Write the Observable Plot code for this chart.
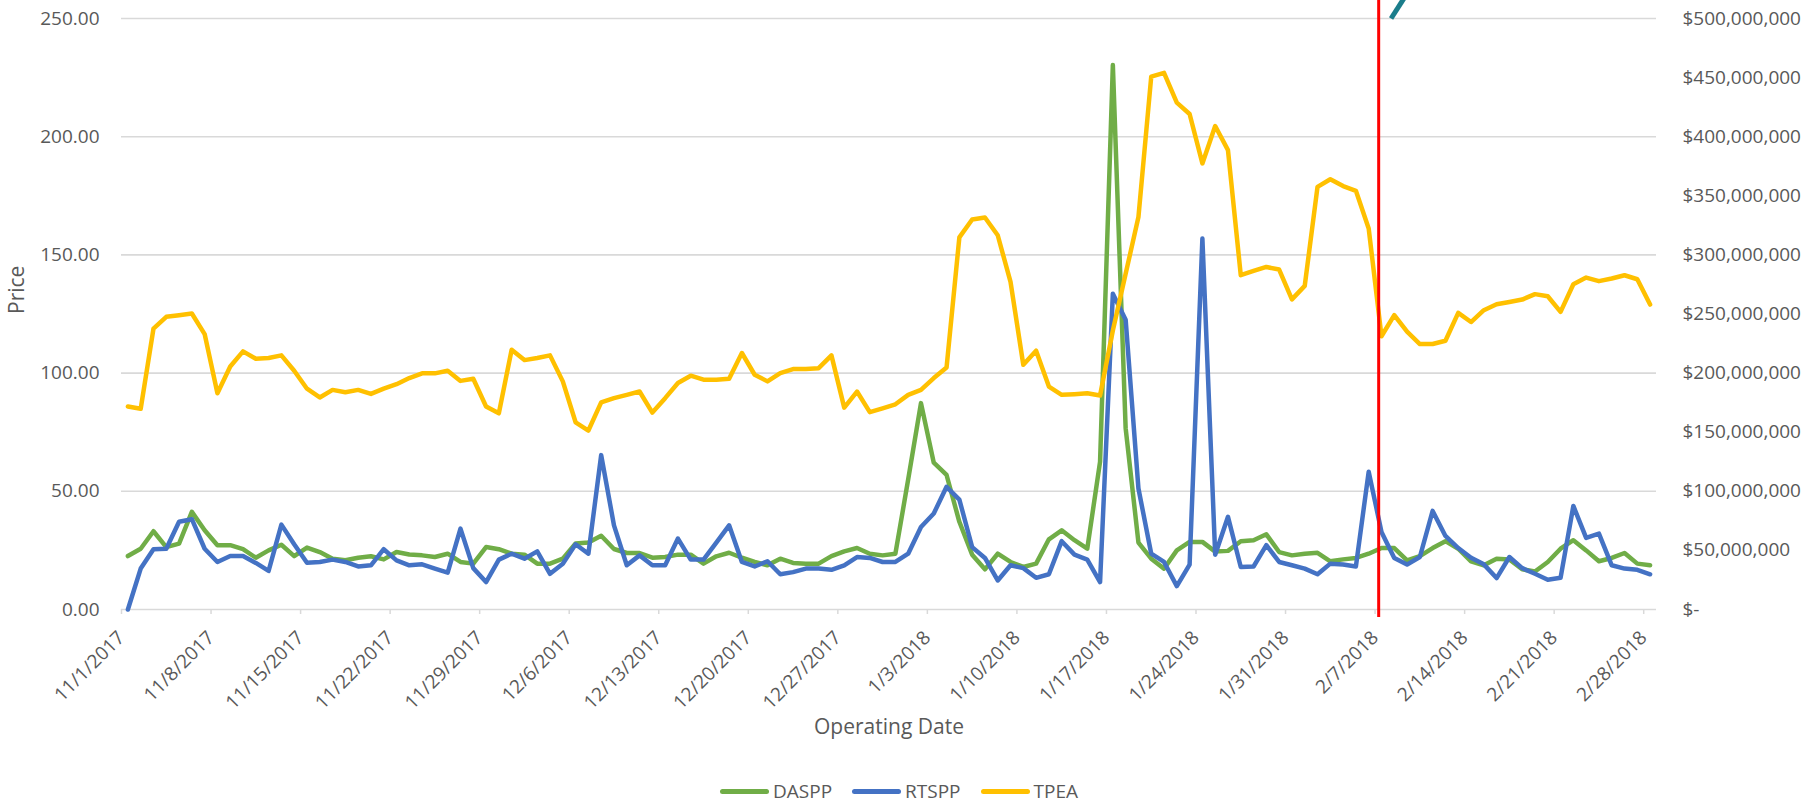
<!DOCTYPE html>
<html>
<head>
<meta charset="utf-8">
<script src="https://cdn.jsdelivr.net/npm/d3@7"></script>
<script src="https://cdn.jsdelivr.net/npm/@observablehq/plot@0.6"></script>
<style>
  html, body { margin: 0; padding: 0; background: #fff; }
  #chart { position: relative; width: 1818px; height: 806px; overflow: hidden; font-family: "Open Sans", sans-serif; color: #595959; }
  .legend { position: absolute; left: 720px; top: 779px; display: flex; align-items: center; font-size: 19px; line-height: 24px; white-space: nowrap; }
  .legend .item { display: flex; align-items: center; margin-right: 20px; }
  .legend .swatch { width: 49px; height: 5px; border-radius: 3px; margin-right: 4px; }
</style>
</head>
<body>
<div id="chart"></div>
<script>
// Operating days: one value per day from 11/1/2017 through 2/28/2018
const firstDay = "2017-11-01";
const endDay = "2018-03-01";

// Day-ahead settlement point price ($/MWh)
const daspp = [
  22.6, 25.7, 33.1, 26.4, 27.9, 41.3, 33.5, 27.2, 27.2, 25.5,
  21.9, 25.0, 27.4, 22.6, 26.2, 24.3, 21.5, 20.8, 21.9, 22.5,
  21.2, 24.3, 23.3, 22.9, 22.2, 23.6, 20.1, 19.4, 26.4, 25.5,
  23.6, 23.2, 19.4, 19.4, 21.5, 27.9, 28.3, 31.2, 25.6, 23.9,
  23.9, 21.9, 22.2, 23.2, 23.2, 19.4, 22.5, 24.0, 21.9, 20.1,
  18.7, 21.5, 19.7, 19.4, 19.4, 22.6, 24.6, 26.0, 23.6, 22.9,
  23.6, 55.0, 87.3, 62.1, 56.9, 37.1, 23.2, 17.0, 23.6, 20.1,
  18.0, 19.4, 29.7, 33.5, 29.3, 25.7, 62.5, 230.3, 76.7, 28.3,
  21.5, 17.3, 25.0, 28.6, 28.6, 24.5, 24.8, 28.9, 29.3, 31.8,
  24.3, 22.9, 23.6, 24.0, 20.4, 21.2, 21.8, 23.6, 26.0, 26.0,
  20.8, 22.6, 26.0, 28.9, 25.7, 20.4, 18.7, 21.5, 21.2, 17.0,
  16.1, 20.1, 25.7, 29.3, 25.0, 20.4, 21.8, 23.9, 19.4, 18.7
];

// Real-time settlement point price ($/MWh)
const rtspp = [
  0.0, 17.3, 25.5, 25.7, 37.1, 38.2, 25.7, 20.1, 22.6, 22.6,
  19.7, 16.3, 35.9, 27.6, 19.8, 20.1, 21.1, 20.1, 18.2, 18.7,
  25.5, 20.8, 18.7, 19.1, 17.3, 15.6, 34.2, 17.5, 11.6, 21.1,
  23.6, 21.5, 24.6, 15.1, 19.4, 27.6, 23.6, 65.3, 35.6, 18.7,
  22.9, 18.7, 18.7, 30.0, 21.1, 21.1, 28.3, 35.6, 20.1, 18.2,
  20.4, 14.9, 15.8, 17.3, 17.3, 16.8, 18.7, 22.2, 21.8, 20.1,
  20.1, 23.6, 34.9, 40.6, 51.9, 46.5, 26.4, 21.8, 12.3, 18.7,
  17.5, 13.4, 14.9, 28.9, 23.2, 21.1, 11.6, 133.6, 122.6, 51.2,
  23.6, 20.1, 9.9, 19.0, 156.9, 23.2, 39.2, 18.0, 18.2, 27.2,
  20.1, 18.7, 17.3, 14.9, 19.4, 19.0, 18.2, 58.3, 32.8, 21.8,
  19.0, 22.2, 41.7, 31.1, 26.0, 21.9, 19.1, 13.3, 22.2, 17.5,
  15.1, 12.6, 13.4, 43.8, 30.3, 32.1, 18.7, 17.3, 16.8, 14.9
];

// Total potential exposure amount, in $ millions (secondary axis)
const tpeaMillions = [
  171.8, 169.8, 237.6, 247.6, 249.0, 250.4, 233.0, 183.0, 205.6, 218.4,
  212.2, 212.8, 215.0, 202.0, 186.8, 179.4, 185.8, 183.8, 185.8, 182.4,
  186.8, 190.6, 195.8, 199.8, 199.8, 202.0, 193.4, 195.2, 171.8, 166.0,
  219.8, 211.0, 212.8, 215.0, 193.0, 158.4, 151.4, 175.2, 178.8, 181.6,
  184.4, 166.6, 178.8, 191.6, 197.8, 194.4, 194.4, 195.2, 217.0, 198.6,
  193.0, 200.0, 203.4, 203.4, 204.2, 215.0, 170.8, 184.4, 167.0, 170.2,
  173.6, 181.6, 185.8, 195.8, 204.8, 314.8, 330.0, 331.6, 316.6, 277.2,
  207.0, 219.0, 188.6, 181.6, 182.2, 183.0, 181.0, 236.0, 284.0, 332.0,
  450.8, 454.0, 428.8, 419.2, 377.4, 409.0, 388.6, 282.8, 286.4, 289.8,
  287.6, 262.4, 273.8, 357.6, 364.0, 358.2, 354.2, 322.4, 231.2, 249.0,
  235.0, 224.6, 224.6, 227.4, 251.0, 243.2, 253.2, 258.2, 260.2, 262.2,
  266.8, 265.0, 251.8, 275.2, 280.8, 277.8, 280.0, 282.8, 279.4, 258.0
];

// Axis ticks
const priceTicks = [0, 50, 100, 150, 200, 250];
const dollarTicks = [0, 50e6, 100e6, 150e6, 200e6, 250e6, 300e6, 350e6, 400e6, 450e6, 500e6];
const dateTicks = [
  "2017-11-01", "2017-11-08", "2017-11-15", "2017-11-22", "2017-11-29",
  "2017-12-06", "2017-12-13", "2017-12-20", "2017-12-27", "2018-01-03",
  "2018-01-10", "2018-01-17", "2018-01-24", "2018-01-31", "2018-02-07",
  "2018-02-14", "2018-02-21", "2018-02-28"
];

// Axis extents: the secondary axis tops out at $500M where price tops out at 250
const priceMax = 250;
const dollarMax = 500e6;

// Annotations: red marker on 2/7/2018 and the teal pointer just after it
const markerDate = "2018-02-07T06:45Z";
const markerSpan = [-3.4, 262];
const pointer = [{from: "2018-02-08T06:00Z", fromY: 250, to: "2018-02-09T16:00Z", toY: 262}];

const dollarsPerPrice = dollarMax / priceMax;
const parse = s => new Date(s.length === 10 ? s + "T00:00Z" : s);
const days = d3.utcDay.range(parse(firstDay), parse(endDay));
const rows = days.map((date, i) => ({
  date,
  DASPP: daspp[i],
  RTSPP: rtspp[i],
  TPEA: tpeaMillions[i] * 1e6
}));
const midday = d => d3.utcHour.offset(d.date, 12);

const fmtDate = d => `${d.getUTCMonth() + 1}/${d.getUTCDate()}/${d.getUTCFullYear()}`;
const fmtDollar = v => v === 0 ? "$-" : "$" + d3.format(",")(Math.round(v));

const lineStyle = {strokeWidth: 4.5, strokeLinejoin: "round", strokeLinecap: "round"};

const chart = Plot.plot({
  width: 1818,
  height: 760,
  marginLeft: 121,
  marginRight: 162,
  marginTop: 18,
  marginBottom: 151,
  style: {fontFamily: "Open Sans, sans-serif", fontSize: "19px", color: "#595959", background: "#fff", overflow: "visible"},
  x: {type: "utc", domain: [parse(firstDay), parse(endDay)]},
  y: {domain: [0, priceMax]},
  marks: [
    Plot.ruleY(priceTicks, {stroke: "#d9d9d9", strokeWidth: 1.6}),
    Plot.axisY(priceTicks, {anchor: "left", tickSize: 0, tickPadding: 22, tickFormat: d3.format(".2f"), label: null, fontSize: 19}),
    Plot.axisY(dollarTicks.map(v => v / dollarsPerPrice), {anchor: "right", tickSize: 0, tickPadding: 26, tickFormat: v => fmtDollar(v * dollarsPerPrice), label: null, fontSize: 19}),
    Plot.axisX(dateTicks.map(parse), {anchor: "bottom", tickSize: 5, tickPadding: 20, tickRotate: -45, tickFormat: fmtDate, stroke: "#d9d9d9", strokeWidth: 1.5, fill: "#595959", label: null, fontSize: 19}),
    Plot.line(rows, {x: midday, y: "DASPP", stroke: "#70ad47", ...lineStyle}),
    Plot.line(rows, {x: midday, y: "RTSPP", stroke: "#4472c4", ...lineStyle}),
    Plot.line(rows, {x: midday, y: d => d.TPEA / dollarsPerPrice, stroke: "#ffc000", ...lineStyle}),
    Plot.ruleX([parse(markerDate)], {y1: markerSpan[0], y2: markerSpan[1], stroke: "#ff0000", strokeWidth: 3}),
    Plot.link(pointer, {x1: d => parse(d.from), y1: "fromY", x2: d => parse(d.to), y2: "toY", stroke: "#1b7d8b", strokeWidth: 5}),
    Plot.text(["Operating Date"], {text: d => d, frameAnchor: "bottom", dy: 124, fontSize: 21, fill: "#595959"}),
    Plot.text(["Price"], {text: d => d, frameAnchor: "left", dx: -104, rotate: -90, fontSize: 21, fill: "#595959"})
  ]
});

const root = document.getElementById("chart");
root.appendChild(chart);

// Legend below the plot
const series = [
  {name: "DASPP", color: "#70ad47"},
  {name: "RTSPP", color: "#4472c4"},
  {name: "TPEA", color: "#ffc000"}
];
const legend = document.createElement("div");
legend.className = "legend";
for (const s of series) {
  const item = document.createElement("div");
  item.className = "item";
  const sw = document.createElement("span");
  sw.className = "swatch";
  sw.style.background = s.color;
  const label = document.createElement("span");
  label.textContent = s.name;
  item.append(sw, label);
  legend.appendChild(item);
}
root.appendChild(legend);
</script>
</body>
</html>
